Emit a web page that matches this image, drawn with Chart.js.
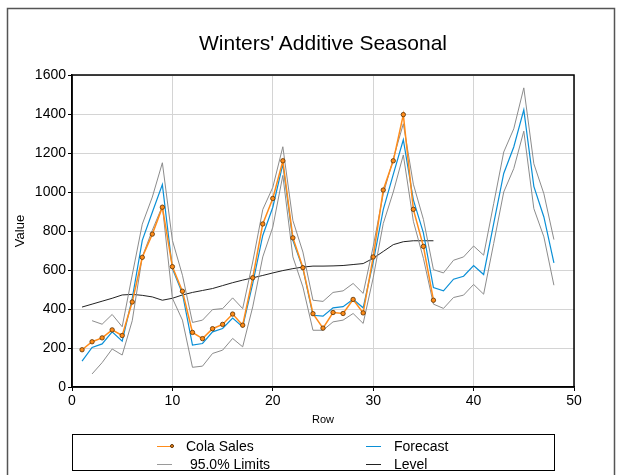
<!DOCTYPE html>
<html>
<head>
<meta charset="utf-8">
<script src="https://cdn.jsdelivr.net/npm/chart.js@4.4.1/dist/chart.umd.min.js"></script>
<style>
  body { margin: 0; background: #fff; }
  #wrap { position: relative; width: 622px; height: 475px; font-family: "Liberation Sans", Arial, sans-serif; }
  #title { position: absolute; left: 72px; width: 502px; top: 31px; text-align: center; font-size: 21px; line-height: 24px; color: #000; }
  #legend { position: absolute; left: 72px; top: 434px; width: 483px; height: 37px; border: 1px solid #000; box-sizing: border-box; background: #fff; }
  .item { position: absolute; font-size: 14px; line-height: 16px; color: #000; white-space: pre; }
  .swatch { position: absolute; height: 0; width: 15px; }
</style>
</head>
<body>
<div id="wrap">
  <canvas id="chart" width="622" height="475"></canvas>
  <div id="title">Winters' Additive Seasonal</div>
  <div id="legend">
    <div class="swatch" style="left:84px;top:11px;border-top:1.5px solid #ff8c1a"></div>
    <div class="swatch" style="left:97px;top:9px;width:4px;height:4px;border-radius:50%;background:#ff8c1a;border:1px solid #5a3000;box-sizing:border-box"></div>
    <div class="item" style="left:113px;top:3px">Cola Sales</div>
    <div class="swatch" style="left:293px;top:11px;border-top:1px solid #0a8fd6"></div>
    <div class="item" style="left:321px;top:3px">Forecast</div>
    <div class="swatch" style="left:84px;top:29px;border-top:1px solid #9a9a9a"></div>
    <div class="item" style="left:113px;top:21px"> 95.0% Limits</div>
    <div class="swatch" style="left:293px;top:29px;border-top:1px solid #222"></div>
    <div class="item" style="left:321px;top:21px">Level</div>
  </div>
</div>
<script>
// rows 1..48, values (null = no value)
let rows = Array.from({length: 48}, (_, i) => i + 1);

let colaSales = [191, 232, 252, 293, 264, 436, 665, 784, 922, 617, 491, 280, 248, 299, 321, 374,
  317, 560, 836, 967, 1160, 765, 612, 376, 302, 382, 377, 449, 380, 667, 1010, 1160, 1397, 911, 721, 445];

let forecast = [133, 203, 221, 283, 235, 455, 752, 896, 1038, 607, 479, 215, 223, 283, 300, 354,
  308, 530, 777, 922, 1143, 752, 607, 368, 363, 406, 412, 450, 406, 640, 910, 1090, 1268, 960, 790, 510,
  493, 553, 568, 623, 577, 838, 1095, 1231, 1421, 1029, 872, 636];

let upperLimit = [null, 340, 322, 372, 309, 575, 835, 974, 1150, 752, 573, 331, 343, 397, 402, 457,
  402, 641, 910, 1024, 1232, 854, 692, 445, 439, 485, 493, 531, 480, 720, 990, 1170, 1350, 1040, 860, 602,
  585, 650, 667, 723, 676, 940, 1205, 1324, 1534, 1145, 991, 756];

let lowerLimit = [null, 67, 125, 195, 164, 340, 667, 804, 928, 455, 343, 101, 107, 172, 189, 249,
  206, 411, 667, 820, 1085, 667, 513, 291, 291, 334, 343, 377, 326, 560, 838, 1000, 1190, 850, 660, 425,
  403, 459, 471, 526, 476, 736, 1000, 1120, 1312, 915, 770, 522];

let level = [410, 425, 440, 455, 472, 475, 470, 462, 445, 455, 472, 485, 495, 505, 520, 535,
  548, 560, 572, 585, 597, 607, 615, 620, 620, 621, 623, 628, 633, 660, 695, 730, 745, 750, 750, 750];

let xTicks = [0, 10, 20, 30, 40, 50];
let yTicks = [0, 200, 400, 600, 800, 1000, 1200, 1400, 1600];

function points(values) {
  return values.map((v, i) => ({x: rows[i], y: v})).filter(p => p.y !== null);
}

let frame = {
  id: 'frame',
  beforeDraw(chart) {
    let ctx = chart.ctx;
    ctx.save();
    ctx.fillStyle = '#fff';
    ctx.fillRect(0, 0, chart.width, chart.height);
    ctx.strokeStyle = '#555';
    ctx.lineWidth = 1.5;
    ctx.beginPath();
    ctx.moveTo(7.5, 475);
    ctx.lineTo(7.5, 8.5);
    ctx.lineTo(614.5, 8.5);
    ctx.lineTo(614.5, 475);
    ctx.stroke();
    ctx.restore();
  },
  afterDraw(chart) {
    let a = chart.chartArea;
    let ctx = chart.ctx;
    ctx.save();
    ctx.strokeStyle = '#000';
    ctx.lineWidth = 1.5;
    ctx.strokeRect(a.left, a.top, a.right - a.left, a.bottom - a.top);
    ctx.restore();
  }
};

let font = '"Liberation Sans", Arial, sans-serif';

let config = {
  type: 'line',
  data: {
    datasets: [
      {
        label: 'Cola Sales',
        data: points(colaSales),
        borderColor: '#ff8c1a',
        backgroundColor: '#ff8c1a',
        borderWidth: 1.5,
        pointRadius: 2.2,
        pointBorderColor: '#5a3000',
        pointBackgroundColor: '#ff8c1a',
        pointBorderWidth: 0.8
      },
      {
        label: 'Forecast',
        data: points(forecast),
        borderColor: '#0a8fd6',
        borderWidth: 1.2,
        pointRadius: 0
      },
      {
        label: 'Upper',
        data: points(upperLimit),
        borderColor: '#8c8c8c',
        borderWidth: 1,
        pointRadius: 0
      },
      {
        label: 'Lower',
        data: points(lowerLimit),
        borderColor: '#8c8c8c',
        borderWidth: 1,
        pointRadius: 0
      },
      {
        label: 'Level',
        data: points(level),
        borderColor: '#222',
        borderWidth: 1,
        pointRadius: 0
      }
    ]
  },
  options: {
    responsive: false,
    animation: false,
    events: [],
    layout: {
      padding: {left: 0, right: 48, top: 75, bottom: 48}
    },
    plugins: {
      legend: {display: false},
      tooltip: {enabled: false},
      title: {display: false}
    },
    scales: {
      x: {
        type: 'linear',
        min: 0,
        max: 50,
        afterBuildTicks: s => { s.ticks = xTicks.map(v => ({value: v})); },
        afterFit: s => { s.height = 40; },
        grid: {color: '#d4d4d4', lineWidth: 1, tickLength: 4, tickColor: '#000'},
        border: {color: '#000', width: 1.5},
        ticks: {color: '#000', padding: 2, maxRotation: 0, font: {family: font, size: 14}, callback: v => String(v)},
        title: {display: true, text: 'Row', color: '#000', font: {family: font, size: 11}, padding: {top: 0, bottom: 0}}
      },
      y: {
        min: 0,
        max: 1600,
        afterBuildTicks: s => { s.ticks = yTicks.map(v => ({value: v})); },
        afterFit: s => { s.width = 72; },
        grid: {color: '#d4d4d4', lineWidth: 1, tickLength: 4, tickColor: '#000'},
        border: {color: '#000', width: 1.5},
        ticks: {color: '#000', padding: 2, font: {family: font, size: 14}, callback: v => String(v)},
        title: {display: true, text: 'Value', color: '#000', font: {family: font, size: 13}, padding: {top: 13, bottom: 0}}
      }
    }
  },
  plugins: [frame]
};

let chart = new Chart(document.getElementById('chart').getContext('2d'), config);
</script>
</body>
</html>
